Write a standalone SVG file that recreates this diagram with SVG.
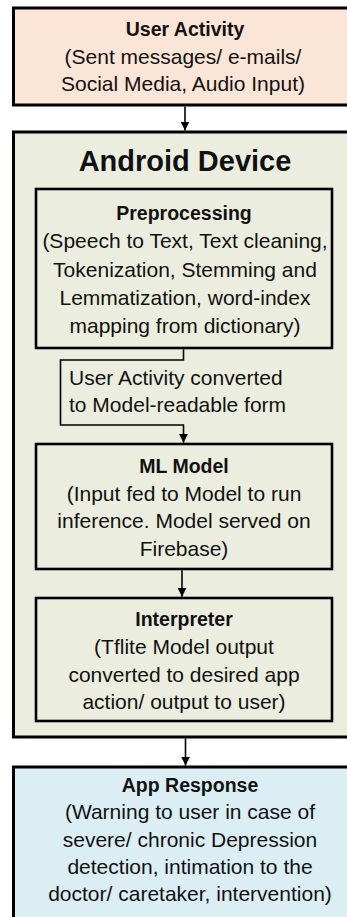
<svg xmlns="http://www.w3.org/2000/svg" width="347" height="917" viewBox="0 0 347 917">
<style>
.box{stroke:#000;stroke-width:3;}
.inner{fill:none;stroke:#000;stroke-width:2.6;}
text{font-family:"Liberation Sans",Arial,sans-serif;fill:#111;text-anchor:middle;font-size:21px;}
.t{font-weight:bold;font-size:19.5px;}
.big{font-weight:bold;font-size:29px;}
.lbl{text-anchor:start;}
.conn{fill:none;stroke:#000;stroke-width:1.6;marker-end:url(#arr);}
</style>
<defs>
<marker id="arr" markerUnits="userSpaceOnUse" markerWidth="10" markerHeight="9" refX="9" refY="4.5" orient="auto">
<path d="M0,0 L9,4.5 L0,9 z" fill="#000"/>
</marker>
</defs>
<rect x="0" y="0" width="347" height="917" fill="#fff"/>
<g id="user-activity">
<rect class="box" x="13.5" y="8" width="345" height="97" fill="#FBE5D6"/>
<text class="t" x="185" y="36">User Activity</text>
<text x="183" y="63.5">(Sent messages/ e-mails/</text>
<text x="183" y="90.5">Social Media, Audio Input)</text>
</g>
<g id="android-device">
<rect class="box" x="13.5" y="132" width="345" height="605" fill="#EBEEDF"/>
<text class="big" x="185" y="170.5">Android Device</text>
</g>
<g id="preprocessing">
<rect class="inner" x="36" y="189" width="296" height="159"/>
<text class="t" x="184" y="220">Preprocessing</text>
<text x="185" y="248">(Speech to Text, Text cleaning,</text>
<text x="185" y="276.5">Tokenization, Stemming and</text>
<text x="185" y="305">Lemmatization, word-index</text>
<text x="185" y="333">mapping from dictionary)</text>
</g>
<g id="ml-model">
<rect class="inner" x="36" y="444" width="296" height="125"/>
<text class="t" x="184" y="473">ML Model</text>
<text x="184" y="500.5">(Input fed to Model to run</text>
<text x="184" y="528">inference. Model served on</text>
<text x="184" y="555.5">Firebase)</text>
</g>
<g id="interpreter">
<rect class="inner" x="36" y="598" width="296" height="123"/>
<text class="t" x="184" y="626">Interpreter</text>
<text x="184" y="654">(Tflite Model output</text>
<text x="184" y="681.5">converted to desired app</text>
<text x="184" y="709">action/ output to user)</text>
</g>
<g id="app-response">
<rect class="box" x="13.5" y="767" width="355" height="200" fill="#DBEEF4"/>
<text class="t" x="190" y="792">App Response</text>
<text x="190" y="819">(Warning to user in case of</text>
<text x="190" y="846.5">severe/ chronic Depression</text>
<text x="190" y="874">detection, intimation to the</text>
<text x="190" y="901">doctor/ caretaker, intervention)</text>
</g>
<g id="connectors">
<path class="conn" d="M185,106.5 V130.5"/>
<path class="conn" d="M183.5,349.3 V360 H60.5 V425 H183.5 V442.7"/>
<path class="conn" d="M182,570.3 V596.7"/>
<path class="conn" d="M185.5,738.5 V765.5"/>
<text class="lbl" x="69" y="385">User Activity converted</text>
<text class="lbl" x="69" y="412">to Model-readable form</text>
</g>
</svg>
